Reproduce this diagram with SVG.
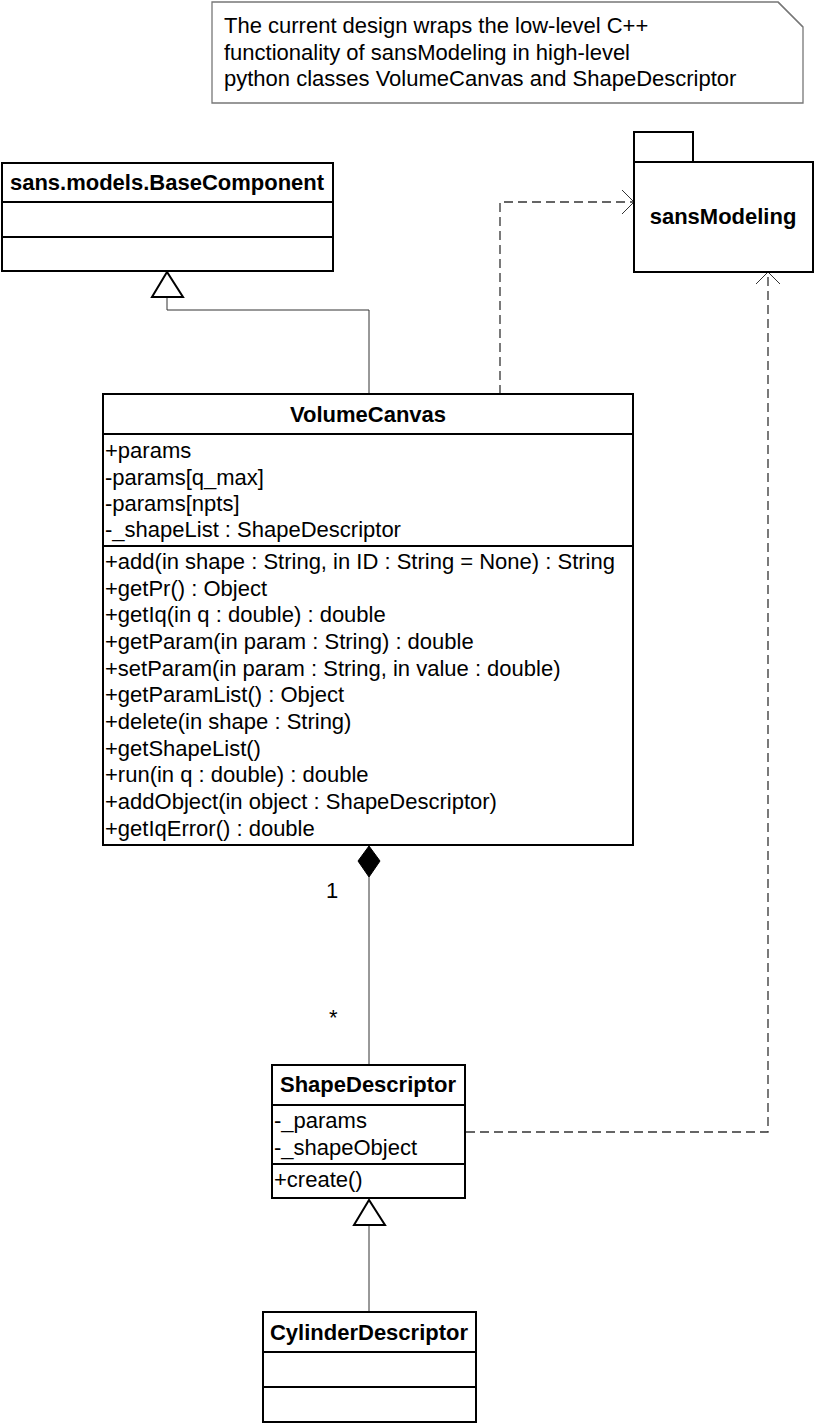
<svg xmlns="http://www.w3.org/2000/svg" width="814" height="1424" viewBox="0 0 814 1424">
<style>
  text { font-family: "Liberation Sans", Arial, sans-serif; font-size: 22px; fill: #000; }
  .title { font-weight: bold; text-anchor: middle; }
  .box { fill: #fff; stroke: #000; stroke-width: 2; }
  .div { stroke: #000; stroke-width: 2; }
  .conn { fill: none; stroke: #333; stroke-width: 1; }
  .dash { fill: none; stroke: #333; stroke-width: 1.3; stroke-dasharray: 9 5; }
  .head { fill: none; stroke: #333; stroke-width: 1; }
  .tri { fill: #fff; stroke: #000; stroke-width: 2; }
</style>

<g id="note">
  <path d="M212,2 H778 L803,27 V103 H212 Z" fill="#fff" stroke="#777" stroke-width="1.3"/>
  <path d="M778,2 L803,27" fill="none" stroke="#777" stroke-width="1.3"/>
  <text x="224" y="33">The current design wraps the low-level C++</text>
  <text x="224" y="60">functionality of sansModeling in high-level</text>
  <text x="224" y="86">python classes VolumeCanvas and ShapeDescriptor</text>
</g>

<g id="connectors">
  <polyline class="conn" points="369,394 369,310 167,310 167,296"/>
  <polygon class="tri" points="167,272 152,297 183,297"/>
  <polyline class="dash" points="500,394 500,202 633,202"/>
  <polyline class="head" points="622,190 634,202 622,214"/>
  <polyline class="dash" points="466,1132 768,1132 768,273"/>
  <polyline class="head" points="756,284 768,272 780,284"/>
  <line class="conn" x1="369" y1="877" x2="369" y2="1065"/>
  <polygon points="369,846 380,861 369,877 358,861" fill="#000" stroke="#000" stroke-width="1"/>
  <text x="326" y="898">1</text>
  <text x="329" y="1025">*</text>
  <line class="conn" x1="369" y1="1225" x2="369" y2="1312"/>
  <polygon class="tri" points="369,1200 354,1225 385,1225"/>
</g>

<g id="BaseComponent">
  <rect class="box" x="2" y="163" width="331" height="108"/>
  <line class="div" x1="2" y1="202" x2="333" y2="202"/>
  <line class="div" x1="2" y1="237" x2="333" y2="237"/>
  <text class="title" x="167" y="190">sans.models.BaseComponent</text>
</g>

<g id="sansModeling">
  <rect class="box" x="634" y="132" width="59" height="30"/>
  <rect class="box" x="634" y="162" width="179" height="110"/>
  <text class="title" x="723" y="224">sansModeling</text>
</g>

<g id="VolumeCanvas">
  <rect class="box" x="103" y="394" width="530" height="451"/>
  <line class="div" x1="103" y1="434" x2="633" y2="434"/>
  <line class="div" x1="103" y1="546" x2="633" y2="546"/>
  <text class="title" x="368" y="422">VolumeCanvas</text>
  <text x="105" y="458">+params</text>
  <text x="105" y="485">-params[q_max]</text>
  <text x="105" y="511">-params[npts]</text>
  <text x="105" y="537">-_shapeList : ShapeDescriptor</text>
  <text x="105" y="569">+add(in shape : String, in ID : String = None) : String</text>
  <text x="105" y="596">+getPr() : Object</text>
  <text x="105" y="622">+getIq(in q : double) : double</text>
  <text x="105" y="649">+getParam(in param : String) : double</text>
  <text x="105" y="676">+setParam(in param : String, in value : double)</text>
  <text x="105" y="702">+getParamList() : Object</text>
  <text x="105" y="729">+delete(in shape : String)</text>
  <text x="105" y="756">+getShapeList()</text>
  <text x="105" y="782">+run(in q : double) : double</text>
  <text x="105" y="809">+addObject(in object : ShapeDescriptor)</text>
  <text x="105" y="836">+getIqError() : double</text>
</g>

<g id="ShapeDescriptor">
  <rect class="box" x="272" y="1065" width="193" height="133"/>
  <line class="div" x1="272" y1="1105" x2="465" y2="1105"/>
  <line class="div" x1="272" y1="1164" x2="465" y2="1164"/>
  <text class="title" x="368" y="1092">ShapeDescriptor</text>
  <text x="274" y="1128">-_params</text>
  <text x="274" y="1155">-_shapeObject</text>
  <text x="274" y="1187">+create()</text>
</g>

<g id="CylinderDescriptor">
  <rect class="box" x="263" y="1312" width="213" height="110"/>
  <line class="div" x1="263" y1="1352" x2="476" y2="1352"/>
  <line class="div" x1="263" y1="1387" x2="476" y2="1387"/>
  <text class="title" x="369" y="1340">CylinderDescriptor</text>
</g>
</svg>
